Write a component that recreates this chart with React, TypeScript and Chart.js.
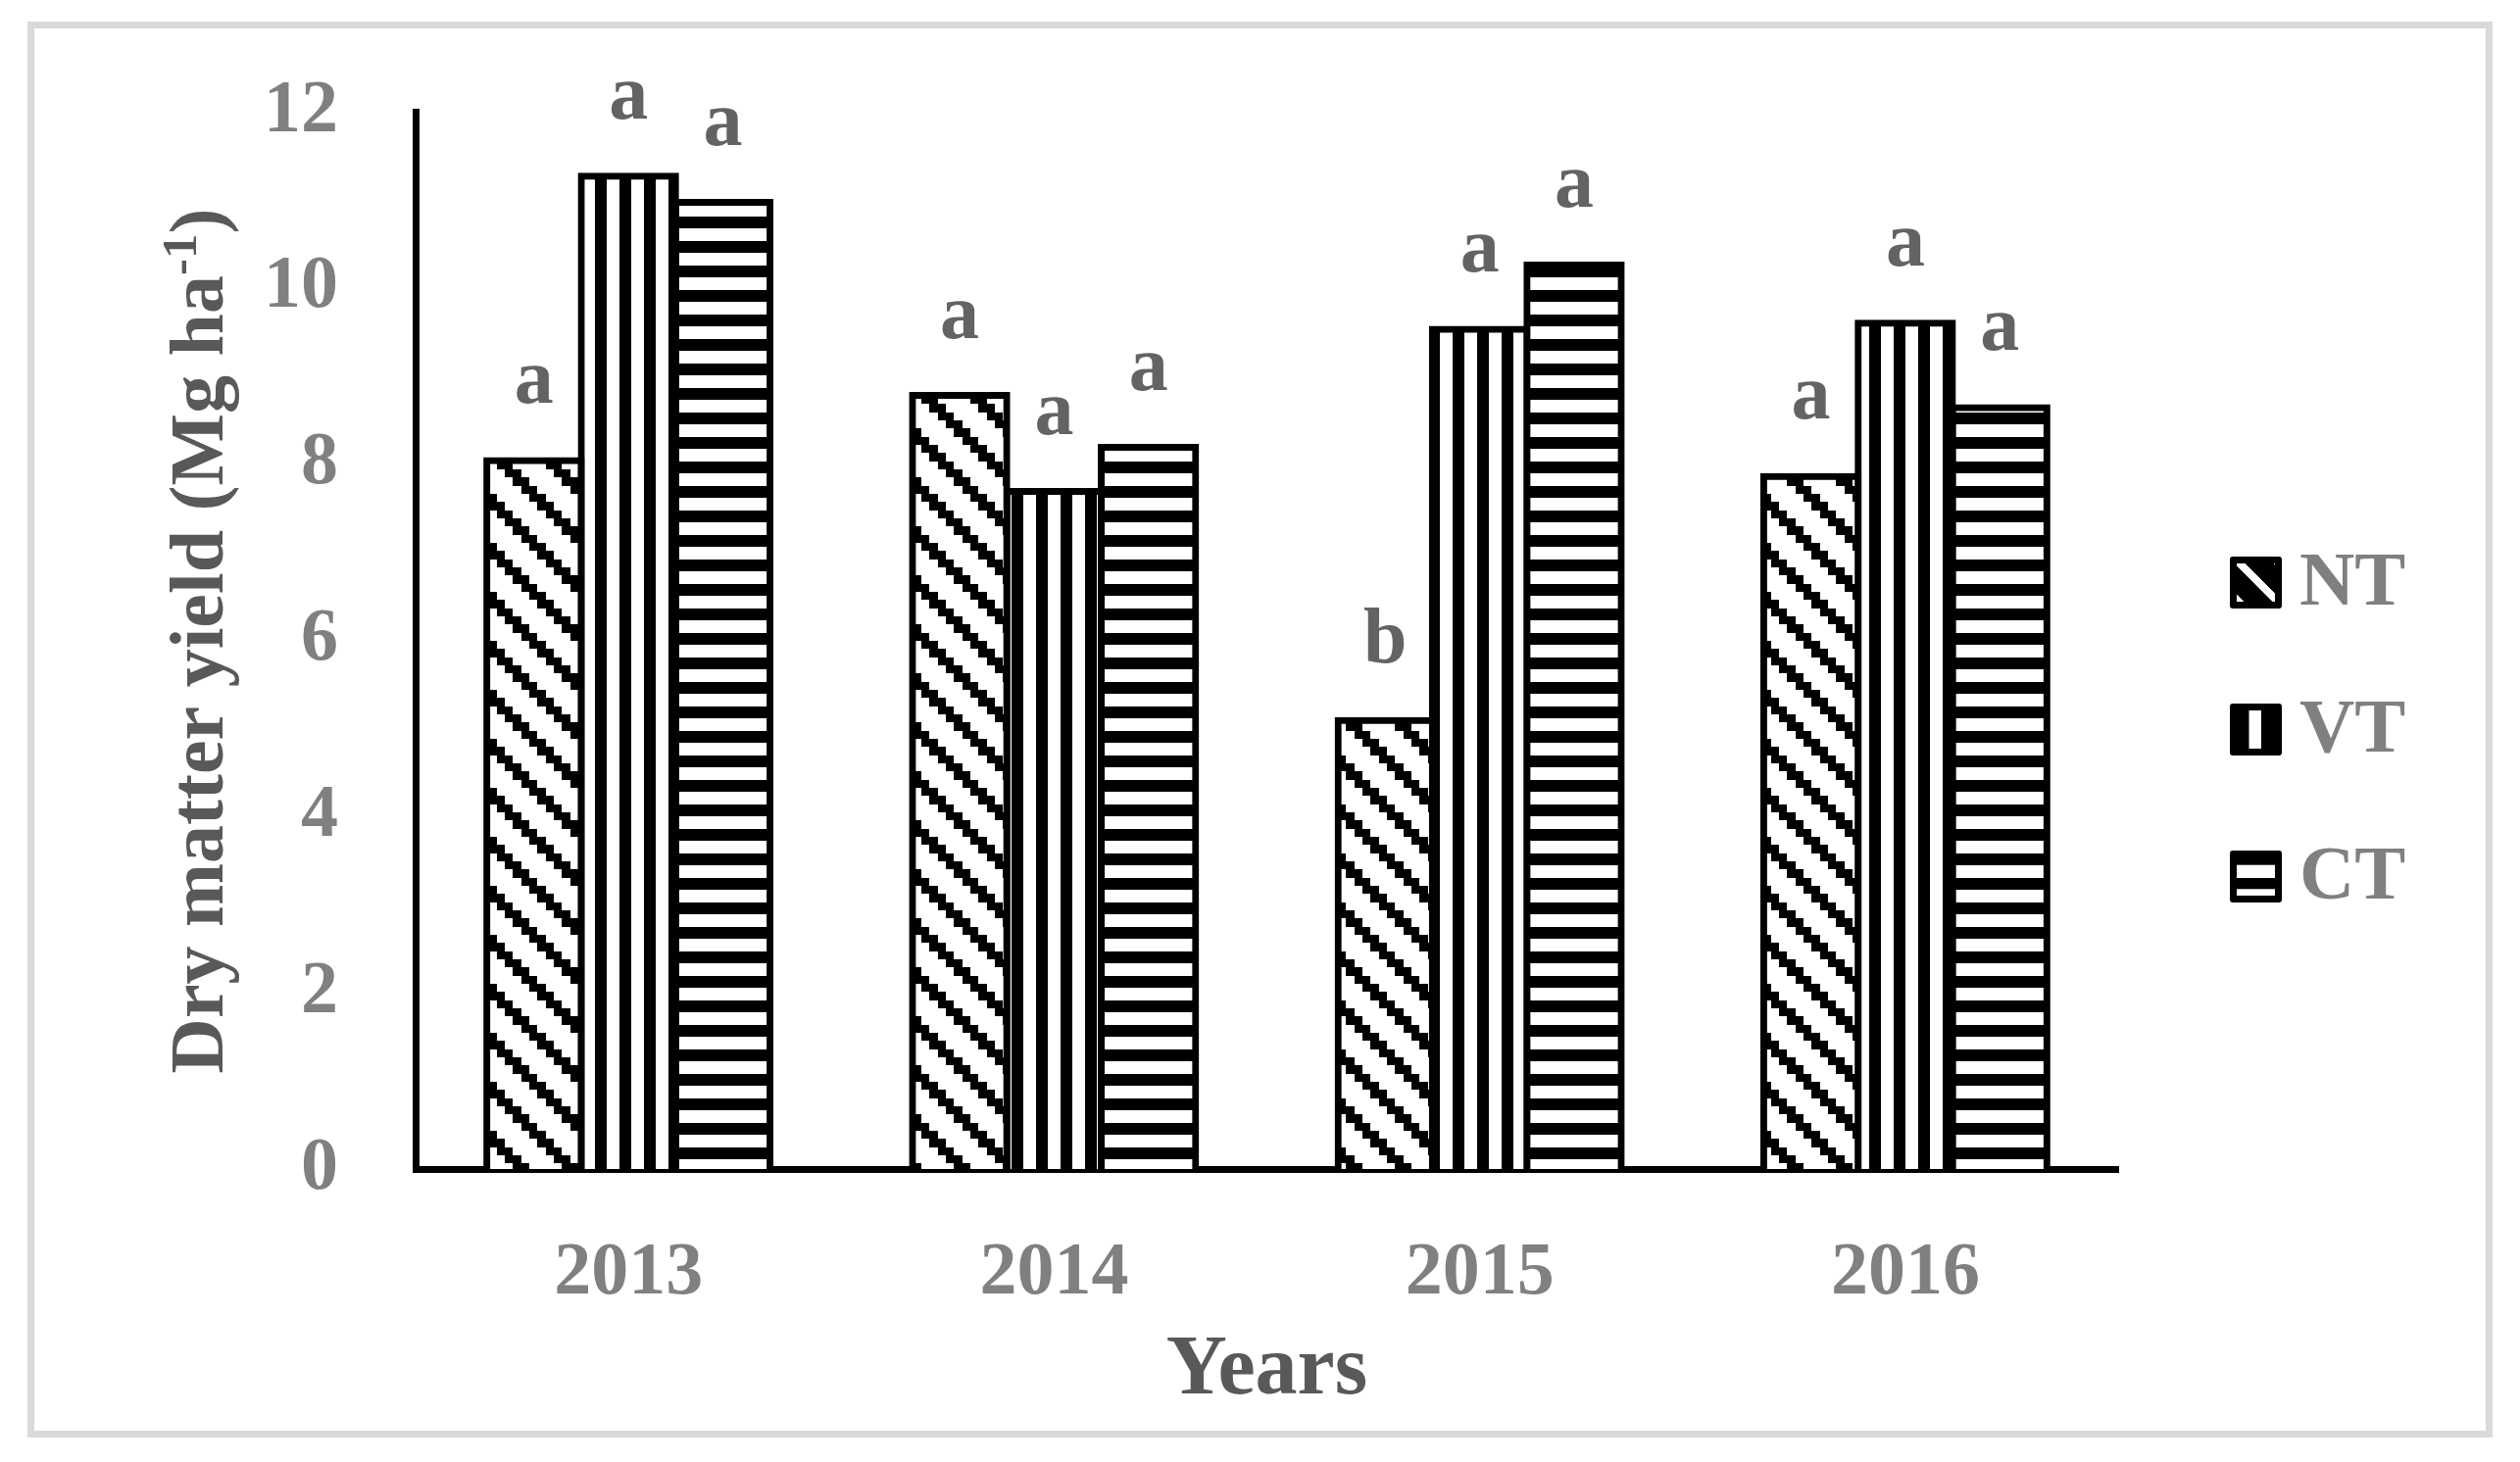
import React, { useEffect, useRef } from 'react';
import { Chart, registerables } from 'chart.js';

Chart.register(...registerables);

// ---------- data ----------
const years = ['2013', '2014', '2015', '2016'];
const seriesNames = ['NT', 'VT', 'CT'];
const ntValues = [8.04, 8.78, 5.09, 7.86];
const vtValues = [11.27, 7.69, 9.53, 9.6];
const ctValues = [10.97, 8.19, 10.26, 8.64];
const ntLetters = ['a', 'a', 'b', 'a'];
const vtLetters = ['a', 'a', 'a', 'a'];
const ctLetters = ['a', 'a', 'a', 'a'];
const yMin = 0;
const yMax = 12;
const yStep = 2;
const yTitleMain = 'Dry matter yield (Mg ha';
const yTitleSup = '-1';
const yTitleEnd = ')';
const xTitle = 'Years';

// ---------- style ----------
const W = 2571;
const H = 1492;
const FONT = '"Liberation Serif", "Times New Roman", serif';
const TICK_COLOR = '#808080';
const TITLE_COLOR = '#595959';
const LETTER_COLOR = '#636363';

function makeTile(w: number, h: number, draw: (g: CanvasRenderingContext2D) => void) {
  const c = document.createElement('canvas');
  c.width = w;
  c.height = h;
  const g = c.getContext('2d')!;
  g.fillStyle = '#ffffff';
  g.fillRect(0, 0, w, h);
  g.fillStyle = '#000000';
  draw(g);
  return c;
}

function makePatterns(ctx: CanvasRenderingContext2D) {
  // wide downward diagonal (stair-stepped), 50px period
  const nt = makeTile(50, 50, (g) => {
    const img = g.createImageData(50, 50);
    const cell = 50 / 6;
    const ox = 40;
    const oy = 4;
    for (let py = 0; py < 50; py++) {
      for (let px = 0; px < 50; px++) {
        const u = Math.floor((px + 0.5 - ox) / cell);
        const v = Math.floor((py + 0.5 - oy) / cell);
        const d = (((u - v) % 6) + 6) % 6;
        const val = d < 2 ? 0 : 255;
        const k = (py * 50 + px) * 4;
        img.data[k] = val;
        img.data[k + 1] = val;
        img.data[k + 2] = val;
        img.data[k + 3] = 255;
      }
    }
    g.putImageData(img, 0, 0);
  });
  // wide vertical stripes
  const vt = makeTile(25, 25, (g) => {
    g.fillRect(7, 0, 12, 25);
  });
  // wide horizontal stripes
  const ct = makeTile(25, 25, (g) => {
    g.fillRect(0, 0, 25, 8);
    g.fillRect(0, 21, 25, 4);
  });
  return [
    ctx.createPattern(nt, 'repeat')!,
    ctx.createPattern(vt, 'repeat')!,
    ctx.createPattern(ct, 'repeat')!,
  ];
}

const framePlugin = {
  id: 'frame',
  beforeDraw(chart: any) {
    const ctx = chart.ctx as CanvasRenderingContext2D;
    ctx.save();
    ctx.fillStyle = '#ffffff';
    ctx.fillRect(0, 0, chart.width, chart.height);
    ctx.strokeStyle = '#d9d9d9';
    ctx.lineWidth = 7;
    ctx.strokeRect(31.5, 25.5, 2508, 1438);
    ctx.restore();
  },
};

const letterSets = [ntLetters, vtLetters, ctLetters];

const lettersPlugin = {
  id: 'letters',
  afterDatasetsDraw(chart: any) {
    const ctx = chart.ctx as CanvasRenderingContext2D;
    ctx.save();
    ctx.font = `bold 80px ${FONT}`;
    ctx.fillStyle = LETTER_COLOR;
    ctx.textAlign = 'center';
    ctx.textBaseline = 'alphabetic';
    letterSets.forEach((letters, di) => {
      const meta = chart.getDatasetMeta(di);
      meta.data.forEach((el: any, i: number) => {
        ctx.fillText(letters[i], el.x, el.y - 59);
      });
    });
    ctx.restore();
  },
};

function drawSwatch(ctx: CanvasRenderingContext2D, kind: string, x: number, y: number) {
  const s = 53;
  const bw = 7;
  ctx.save();
  ctx.fillStyle = '#000000';
  ctx.beginPath();
  (ctx as any).roundRect ? (ctx as any).roundRect(x, y, s, s, 3) : ctx.rect(x, y, s, s);
  ctx.fill();
  const ix = x + bw;
  const iy = y + bw;
  const is = s - 2 * bw;
  ctx.beginPath();
  ctx.rect(ix, iy, is, is);
  ctx.clip();
  ctx.fillStyle = '#ffffff';
  if (kind === 'NT') {
    for (let rx = 0; rx < s; rx++) {
      for (let ry = 0; ry < s; ry++) {
        const d = (((rx - ry + 2) % 40) + 40) % 40;
        if (d < 11) ctx.fillRect(x + rx, y + ry, 1, 1);
      }
    }
  } else if (kind === 'VT') {
    ctx.fillRect(x + 19.5, iy, 12.5, is);
  } else {
    ctx.fillRect(ix, y + 14.7, is, 13.3);
    ctx.fillRect(ix, y + 39.3, is, 13.3);
  }
  ctx.restore();
}

const overlayPlugin = {
  id: 'overlay',
  afterDraw(chart: any) {
    const ctx = chart.ctx as CanvasRenderingContext2D;
    const area = chart.chartArea;
    // y axis title with superscript
    ctx.save();
    const mainFont = `bold 78px ${FONT}`;
    const supFont = `bold 51px ${FONT}`;
    ctx.font = mainFont;
    const w1 = ctx.measureText(yTitleMain).width;
    const w3 = ctx.measureText(yTitleEnd).width;
    ctx.font = supFont;
    const w2 = ctx.measureText(yTitleSup).width;
    const total = w1 + w2 + w3;
    ctx.translate(227, 654);
    ctx.rotate(-Math.PI / 2);
    ctx.fillStyle = TITLE_COLOR;
    ctx.textAlign = 'left';
    ctx.textBaseline = 'alphabetic';
    const start = -total / 2;
    ctx.font = mainFont;
    ctx.fillText(yTitleMain, start, 0);
    ctx.font = supFont;
    ctx.fillText(yTitleSup, start + w1, -27);
    ctx.font = mainFont;
    ctx.fillText(yTitleEnd, start + w1 + w2, 0);
    ctx.restore();

    // legend
    ctx.save();
    const legendX = area.right + 114;
    const tops = [568, 718, 868];
    ctx.font = `bold 78px ${FONT}`;
    ctx.fillStyle = TICK_COLOR;
    ctx.textAlign = 'left';
    ctx.textBaseline = 'alphabetic';
    seriesNames.forEach((name, i) => {
      drawSwatch(ctx, name, legendX, tops[i]);
      ctx.fillStyle = TICK_COLOR;
      ctx.fillText(name, legendX + 71, tops[i] + 49);
    });
    ctx.restore();
  },
};

export default function App() {
  const ref = useRef<HTMLCanvasElement>(null);

  useEffect(() => {
    const canvas = ref.current!;
    const ctx = canvas.getContext('2d')!;
    const patterns = makePatterns(ctx);
    const values = [ntValues, vtValues, ctValues];

    const chart = new Chart(canvas, {
      type: 'bar',
      data: {
        labels: years,
        datasets: seriesNames.map((name, i) => ({
          label: name,
          data: values[i],
          backgroundColor: patterns[i],
          borderColor: '#000000',
          borderWidth: 7,
          borderSkipped: 'start',
          inflateAmount: 3.5,
          categoryPercentage: 0.6655,
          barPercentage: 1,
        })),
      },
      options: {
        responsive: false,
        animation: false,
        devicePixelRatio: 1,
        layout: { padding: { top: 114, left: 0, right: 410, bottom: 0 } },
        plugins: {
          legend: { display: false },
          tooltip: { enabled: false },
          title: { display: false },
        },
        scales: {
          x: {
            z: 1,
            grid: { display: false, drawTicks: false },
            border: { display: true, color: '#000000', width: 7 },
            ticks: {
              font: { family: FONT, size: 76, weight: 'bold' },
              color: TICK_COLOR,
              padding: 62,
              maxRotation: 0,
              autoSkip: false,
            },
            title: {
              display: true,
              text: xTitle,
              font: { family: FONT, size: 86, weight: 'bold' },
              color: TITLE_COLOR,
              padding: { top: 0, bottom: 41 },
            },
            afterFit: (s: any) => {
              s.height = 299;
              s.paddingLeft = 0;
              s.paddingRight = 0;
            },
          },
          y: {
            min: yMin,
            max: yMax,
            grid: { display: false, drawTicks: false },
            border: { display: true, color: '#000000', width: 7 },
            ticks: {
              stepSize: yStep,
              font: { family: FONT, size: 76, weight: 'bold' },
              color: TICK_COLOR,
              padding: 79,
            },
            afterFit: (s: any) => {
              s.width = 424;
              s.paddingTop = 0;
              s.paddingBottom = 0;
            },
          },
        },
      } as any,
      plugins: [framePlugin, lettersPlugin, overlayPlugin],
    });

    return () => chart.destroy();
  }, []);

  return (
    <div style={{ position: 'absolute', left: 0, top: 0, width: W, height: H, background: '#ffffff' }}>
      <canvas ref={ref} width={W} height={H} style={{ display: 'block', width: W, height: H }} />
    </div>
  );
}
